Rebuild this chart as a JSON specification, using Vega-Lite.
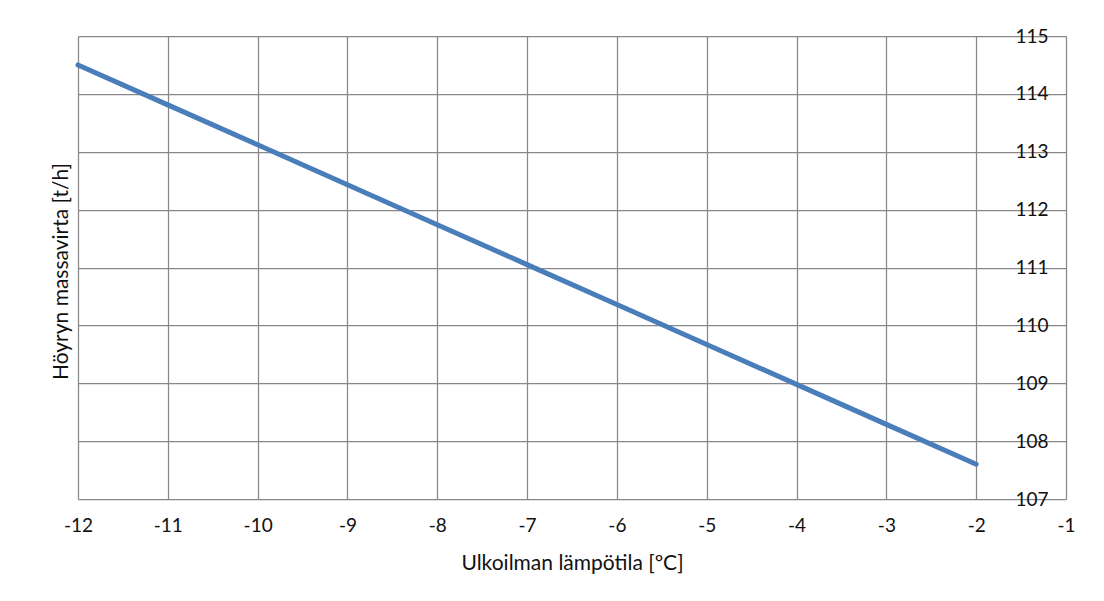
{
  "$schema": "https://vega.github.io/schema/vega-lite/v6.json",
  "autosize": {"type": "none"},
  "width": 988,
  "height": 463,
  "padding": {"left": 78, "top": 36, "right": 38, "bottom": 102},
  "background": "white",
  "data": {
    "values": [
      {"t": -12, "m": 114.5},
      {"t": -11, "m": 113.81},
      {"t": -10, "m": 113.12},
      {"t": -9, "m": 112.43},
      {"t": -8, "m": 111.74},
      {"t": -7, "m": 111.05},
      {"t": -6, "m": 110.36},
      {"t": -5, "m": 109.67},
      {"t": -4, "m": 108.98},
      {"t": -3, "m": 108.29},
      {"t": -2, "m": 107.6}
    ]
  },
  "mark": {"type": "line", "color": "#4A7EBB", "strokeWidth": 5, "strokeCap": "round", "clip": false},
  "encoding": {
    "x": {
      "field": "t",
      "type": "quantitative",
      "scale": {"domain": [-12, -1], "nice": false, "zero": false},
      "axis": {
        "values": [-12, -11, -10, -9, -8, -7, -6, -5, -4, -3, -2, -1],
        "labelExpr": "'' + datum.value",
        "title": "Ulkoilman lämpötila [ºC]",
        "ticks": false,
        "tickSize": 0,
        "domain": false,
        "labelPadding": 17,
        "labelFlush": false,
        "titleBaseline": "alphabetic",
        "titleY": 70,
        "titleX": 494,
        "titleAlign": "center"
      }
    },
    "y": {
      "field": "m",
      "type": "quantitative",
      "scale": {"domain": [107, 115], "nice": false, "zero": false},
      "axis": {
        "orient": "left",
        "values": [107, 108, 109, 110, 111, 112, 113, 114, 115],
        "title": "Höyryn massavirta [t/h]",
        "ticks": false,
        "tickSize": 0,
        "domain": false,
        "labelAlign": "left",
        "labelBaseline": "middle",
        "labelPadding": -937,
        "labelFlush": false,
        "titleAngle": -90,
        "titleBaseline": "alphabetic",
        "titleX": -11,
        "titleY": 235,
        "titleAlign": "center"
      }
    }
  },
  "config": {
    "view": {"stroke": null},
    "font": "Lato",
    "axis": {
      "grid": true,
      "gridColor": "#878787",
      "gridWidth": 1.25,
      "gridOpacity": 1,
      "labelFont": "Lato",
      "labelFontSize": 19,
      "labelColor": "#111111",
      "titleFont": "Lato",
      "titleFontSize": 21,
      "titleFontWeight": "normal",
      "titleColor": "#111111"
    }
  }
}
